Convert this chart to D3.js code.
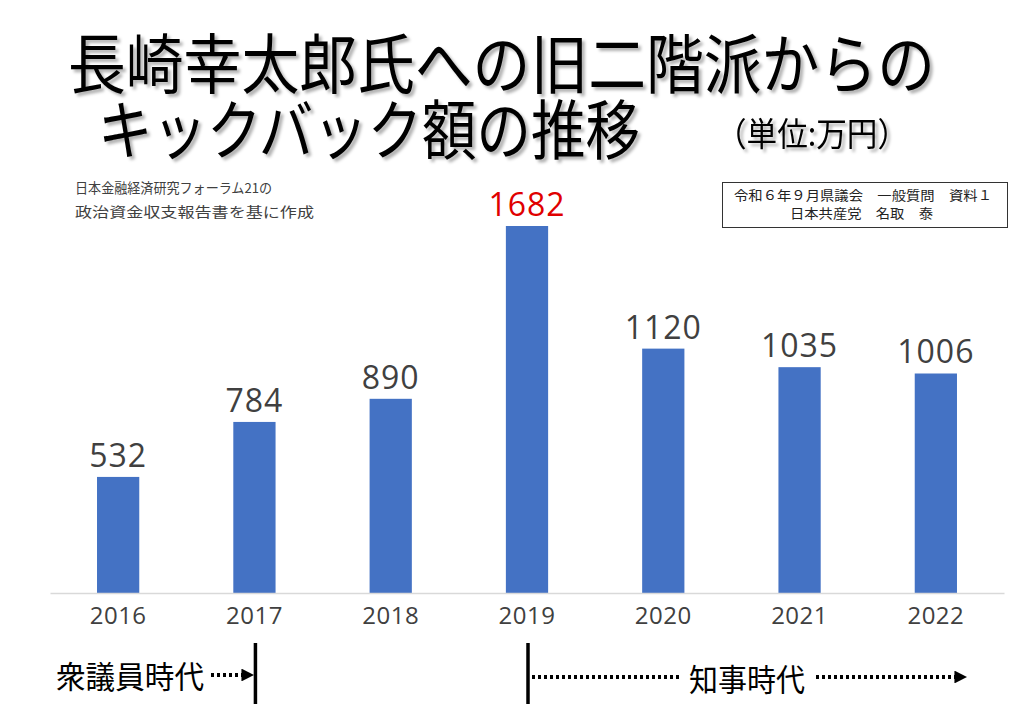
<!DOCTYPE html>
<html lang="ja">
<head>
<meta charset="utf-8">
<title>キックバック額の推移</title>
<script src="https://cdn.jsdelivr.net/npm/d3@7"></script>
<style>
  body { margin: 0; background: #fff; }
  svg { display: block; font-family: "Noto Sans CJK JP", "Noto Sans", sans-serif; }
</style>
</head>
<body>
<div id="vis"></div>
<script>
// data (単位: 万円)
var years = ["2016", "2017", "2018", "2019", "2020", "2021", "2022"];
var amounts = [532, 784, 890, 1682, 1120, 1035, 1006];
var highlightYear = "2019";
var eraMarks = ["2017", "2019"];

var width = 1024, height = 724;
var svg = d3.select("#vis").append("svg")
  .attr("width", width)
  .attr("height", height);

var defs = svg.append("defs");
defs.append("filter").attr("id", "shadow")
  .append("feDropShadow")
  .attr("dx", 3).attr("dy", 3).attr("stdDeviation", 1.5)
  .attr("flood-color", "#000").attr("flood-opacity", 0.3);
defs.append("marker")
  .attr("id", "arrow")
  .attr("viewBox", "0 0 10 10")
  .attr("refX", 2).attr("refY", 5)
  .attr("markerWidth", 3.2).attr("markerHeight", 3.2)
  .attr("orient", "auto")
  .append("path").attr("d", "M0,0 L10,5 L0,10 z").attr("fill", "#000");

// title (glyphs a bit taller than wide, like the original)
var title = svg.append("g").attr("filter", "url(#shadow)").attr("font-weight", 400);
title.append("text")
  .attr("transform", "translate(68,88) scale(1,1.08)")
  .attr("font-size", 60)
  .attr("textLength", 867).attr("lengthAdjust", "spacingAndGlyphs")
  .text("長崎幸太郎氏への旧二階派からの");
title.append("text")
  .attr("transform", "translate(98,154) scale(1,1.08)")
  .attr("font-size", 60)
  .attr("textLength", 542).attr("lengthAdjust", "spacingAndGlyphs")
  .text("キックバック額の推移");
title.append("text")
  .attr("transform", "translate(716,146) scale(1,1.1)")
  .attr("font-size", 30)
  .attr("textLength", 192).attr("lengthAdjust", "spacingAndGlyphs")
  .text("（単位:万円）");

// source note
var note = svg.append("g").attr("fill", "#404040").attr("font-size", 13.5);
note.append("text").attr("x", 75).attr("y", 193)
  .attr("textLength", 197).attr("lengthAdjust", "spacingAndGlyphs")
  .text("日本金融経済研究フォーラム21の");
note.append("text").attr("x", 75).attr("y", 217)
  .attr("textLength", 239).attr("lengthAdjust", "spacingAndGlyphs")
  .text("政治資金収支報告書を基に作成");

// box top right
svg.append("rect")
  .attr("x", 722.5).attr("y", 182.5).attr("width", 285).attr("height", 45)
  .attr("fill", "#fff").attr("stroke", "#333").attr("stroke-width", 1);
var box = svg.append("g").attr("font-size", 13).attr("fill", "#222");
box.append("text").attr("x", 734).attr("y", 200)
  .attr("textLength", 258).attr("lengthAdjust", "spacingAndGlyphs")
  .text("令和６年９月県議会　一般質問　資料１");
box.append("text").attr("x", 790).attr("y", 218)
  .attr("textLength", 143).attr("lengthAdjust", "spacingAndGlyphs")
  .text("日本共産党　名取　泰");

// scales
var x = d3.scaleBand()
  .domain(years)
  .range([50, 1004])
  .paddingInner(0.69)
  .paddingOuter(0.345);

var y = d3.scaleLinear()
  .domain([0, 1682])
  .range([593, 226]);

var bars = svg.append("g");
bars.selectAll("rect")
  .data(years)
  .enter().append("rect")
  .attr("x", function(d) { return x(d); })
  .attr("y", function(d, i) { return y(amounts[i]); })
  .attr("width", x.bandwidth())
  .attr("height", function(d, i) { return y(0) - y(amounts[i]); })
  .attr("fill", "#4472C4");

bars.selectAll("text")
  .data(years)
  .enter().append("text")
  .attr("x", function(d) { return x(d) + x.bandwidth() / 2; })
  .attr("y", function(d, i) { return y(amounts[i]) - 10; })
  .attr("text-anchor", "middle")
  .attr("font-size", 32)
  .attr("letter-spacing", 1)
  .attr("font-family", "'Open Sans', 'Noto Sans', sans-serif")
  .attr("fill", function(d) { return d == highlightYear ? "#E00000" : "#404040"; })
  .text(function(d, i) { return amounts[i]; });

// x axis
var xAxis = d3.axisBottom(x).tickSize(0).tickPadding(14);
var gx = svg.append("g")
  .attr("transform", "translate(0," + y(0) + ")")
  .call(xAxis);
gx.select(".domain").attr("stroke", "#d9d9d9").attr("stroke-width", 1.5);
gx.selectAll("text")
  .attr("font-size", 24)
  .attr("letter-spacing", 0.5)
  .attr("font-family", "'Open Sans', 'Noto Sans', sans-serif")
  .attr("fill", "#404040");

// era timeline
var mid = function(d) { return x(d) + x.bandwidth() / 2; };
var era = svg.append("g");
era.selectAll("line.mark")
  .data(eraMarks)
  .enter().append("line")
  .attr("class", "mark")
  .attr("x1", function(d) { return mid(d) + 1; })
  .attr("x2", function(d) { return mid(d) + 1; })
  .attr("y1", 643).attr("y2", 704)
  .attr("stroke", "#000").attr("stroke-width", 3.5);

era.append("text")
  .attr("transform", "translate(56,688) scale(1,1.1)")
  .attr("font-size", 28)
  .attr("textLength", 148).attr("lengthAdjust", "spacingAndGlyphs")
  .text("衆議員時代");
era.append("line")
  .attr("x1", 211).attr("x2", 244).attr("y1", 675).attr("y2", 675)
  .attr("stroke", "#000").attr("stroke-width", 4).attr("stroke-dasharray", "3 3")
  .attr("marker-end", "url(#arrow)");

era.append("line")
  .attr("x1", mid("2019") + 5).attr("x2", 682).attr("y1", 677).attr("y2", 677)
  .attr("stroke", "#000").attr("stroke-width", 4).attr("stroke-dasharray", "3 3");
era.append("text")
  .attr("transform", "translate(689,691) scale(1,1.1)")
  .attr("font-size", 28)
  .attr("textLength", 116).attr("lengthAdjust", "spacingAndGlyphs")
  .text("知事時代");
era.append("line")
  .attr("x1", 816).attr("x2", 957).attr("y1", 677).attr("y2", 677)
  .attr("stroke", "#000").attr("stroke-width", 4).attr("stroke-dasharray", "3 3")
  .attr("marker-end", "url(#arrow)");
</script>
</body>
</html>
